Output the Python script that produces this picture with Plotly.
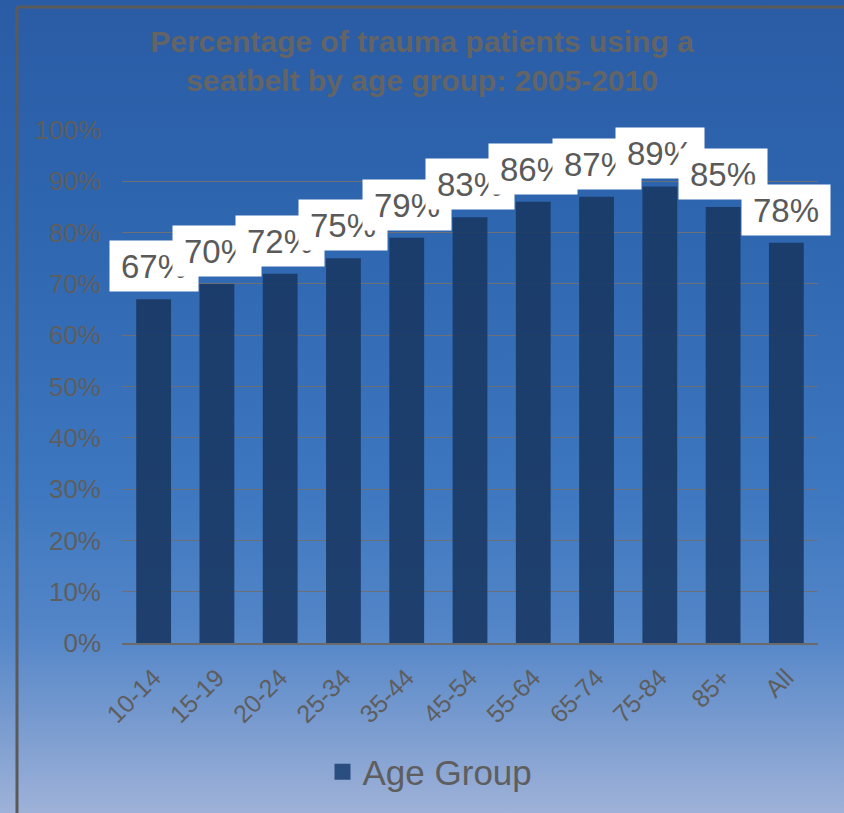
import base64
import plotly.graph_objects as go

# ---- data ----
categories = ["10-14", "15-19", "20-24", "25-34", "35-44", "45-54",
              "55-64", "65-74", "75-84", "85+", "All"]
values_pct = [67, 70, 72, 75, 79, 83, 86, 87, 89, 85, 78]
series_name = "Age Group"
y_tick_vals = [0, 0.1, 0.2, 0.3, 0.4, 0.5, 0.6, 0.7, 0.8, 0.9, 1.0]
title_text = "Percentage of trauma patients using a<br>seatbelt by age group: 2005-2010"

# ---- layout geometry ----
W, H = 844, 813
L, R, T, B = 122, 26, 130, 170
PW, PH = W - L - R, H - T - B


def px2x(px):
    return (px - L) / PW


def px2y(py):
    return (H - B - py) / PH


FONT = "Liberation Sans, Arial, sans-serif"
GREY = "#5e5e5e"

values = [v / 100 for v in values_pct]

fig = go.Figure()
fig.add_trace(go.Bar(
    x=categories, y=values, name=series_name,
    marker=dict(color="rgba(26,56,100,0.9)", line=dict(width=0)),
    showlegend=False,
))
# legend entry with a larger square icon
fig.add_trace(go.Scatter(
    x=[None], y=[None], mode="markers", name=series_name,
    marker=dict(symbol="square", size=20, color="#2b4e80"),
    showlegend=True,
))

# data labels (white boxes)
for c, v, p in zip(categories, values, values_pct):
    fig.add_annotation(
        x=c, y=v, xref="x", yref="y", text=f"{p}%",
        showarrow=False, yanchor="bottom", yshift=7,
        width=88, height=50, bgcolor="white", borderpad=0,
        font=dict(family=FONT, size=33, color="#5a5a5a"),
    )

# gradient background as inline SVG image
svg = (
    '<svg xmlns="http://www.w3.org/2000/svg" width="100" height="100" preserveAspectRatio="none">'
    '<defs><linearGradient id="g" x1="0" y1="0" x2="0" y2="1">'
    '<stop offset="0" stop-color="#2a5ca5"/>'
    '<stop offset="0.3" stop-color="#2f67b1"/>'
    '<stop offset="0.6" stop-color="#3d77bf"/>'
    '<stop offset="0.78" stop-color="#5486c8"/>'
    '<stop offset="0.9" stop-color="#7c9dd0"/>'
    '<stop offset="1" stop-color="#9fb2d8"/>'
    '</linearGradient></defs>'
    '<rect width="100" height="100" fill="url(#g)"/></svg>'
)
uri = "data:image/svg+xml;base64," + base64.b64encode(svg.encode()).decode()
fig.add_layout_image(
    source=uri, xref="paper", yref="paper",
    x=px2x(0), y=px2y(0), sizex=px2x(W) - px2x(0), sizey=px2y(0) - px2y(H),
    xanchor="left", yanchor="top", sizing="stretch", layer="below",
)

# frame border (top and left lines)
fig.add_shape(type="line", xref="paper", yref="paper",
              x0=px2x(17), x1=px2x(W + 5), y0=px2y(7), y1=px2y(7),
              line=dict(color="#5a5a5a", width=3))
fig.add_shape(type="line", xref="paper", yref="paper",
              x0=px2x(17), x1=px2x(17), y0=px2y(7), y1=px2y(H + 5),
              line=dict(color="#5a5a5a", width=3))

fig.update_layout(
    width=W, height=H,
    margin=dict(l=L, r=R, t=T, b=B),
    paper_bgcolor="rgba(0,0,0,0)",
    plot_bgcolor="rgba(0,0,0,0)",
    bargap=0.45,
    title=dict(text=title_text, x=0.5, xanchor="center",
               y=(H - 52) / H, yanchor="top",
               font=dict(family=FONT, size=30, color="#646464", weight="bold")),
    legend=dict(orientation="h", x=px2x(430), xanchor="center",
                y=px2y(772), yanchor="middle",
                font=dict(family=FONT, size=35, color=GREY),
                bgcolor="rgba(0,0,0,0)", itemwidth=30),
    font=dict(family=FONT, color=GREY),
)
fig.update_yaxes(
    range=[0, 1.0], tickvals=y_tick_vals, tickformat=".0%",
    showgrid=True, gridcolor="#6b6f78", gridwidth=1,
    zeroline=False, showline=False, ticks="",
    tickfont=dict(family=FONT, size=26, color=GREY),
    ticklabelstandoff=20,
)
fig.update_xaxes(
    range=[-0.5, len(categories) - 0.5],
    tickangle=-45, showline=True, linecolor="#6a6a6a", linewidth=2,
    ticks="", tickfont=dict(family=FONT, size=25, color=GREY),
    ticklabelstandoff=8,
)

fig.write_html(
    "out.html",
    config={"displayModeBar": False},
    post_script="document.body.style.margin='0';document.body.style.padding='0';",
)
